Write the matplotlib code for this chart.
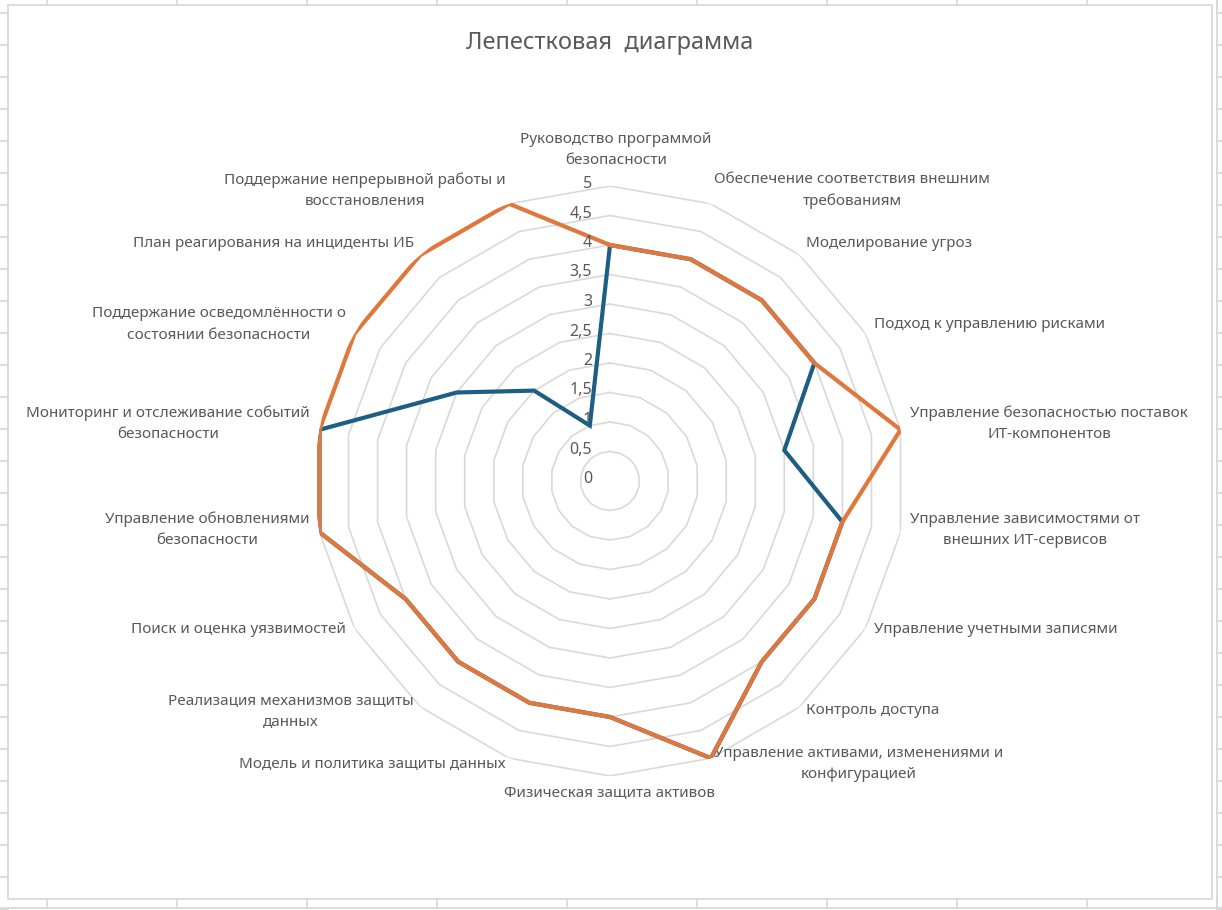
import numpy as np
import matplotlib.pyplot as plt

plt.rcParams['font.family'] = ['Noto Sans', 'DejaVu Sans']

categories = [
    "Руководство программой\nбезопасности",
    "Обеспечение соответствия внешним\nтребованиям",
    "Моделирование угроз",
    "Подход к управлению рисками",
    "Управление безопасностью поставок\nИТ-компонентов",
    "Управление зависимостями от\nвнешних ИТ-сервисов",
    "Управление учетными записями",
    "Контроль доступа",
    "Управление активами, изменениями и\nконфигурацией",
    "Физическая защита активов",
    "Модель и политика защиты данных",
    "Реализация механизмов защиты\nданных",
    "Поиск и оценка уязвимостей",
    "Управление обновлениями\nбезопасности",
    "Мониторинг и отслеживание событий\nбезопасности",
    "Поддержание осведомлённости о\nсостоянии безопасности",
    "План реагирования на инциденты ИБ",
    "Поддержание непрерывной работы и\nвосстановления",
]
series_blue = [4, 4, 4, 4, 3, 4, 4, 4, 5, 4, 4, 4, 4, 5, 5, 3, 2, 1]
series_orange = [4, 4, 4, 4, 5, 4, 4, 4, 5, 4, 4, 4, 4, 5, 5, 5, 5, 5]
r_ticks = [0, 0.5, 1, 1.5, 2, 2.5, 3, 3.5, 4, 4.5, 5]
title = "Лепестковая  диаграмма"

text_color = '#595959'
grid_color = '#D9D9D9'
W, H = 1222, 910

fig = plt.figure(figsize=(W / 100, H / 100), dpi=100)

# фон: рамка диаграммы и сетка листа по краям
bg = fig.add_axes([0, 0, 1, 1], zorder=-1)
bg.set_xlim(0, W)
bg.set_ylim(H, 0)
bg.axis('off')
lw_sheet = 1.3
bg.plot([8, 1212, 1212, 8, 8], [5, 5, 899, 899, 5], color=grid_color, lw=lw_sheet)
bg.plot([1217, 1217], [0, H], color=grid_color, lw=lw_sheet)
bg.plot([0, W], [908, 908], color=grid_color, lw=lw_sheet)
for y in np.arange(13.3, H, 32):
    bg.plot([0, 8], [y, y], color=grid_color, lw=lw_sheet)
    bg.plot([1217, W], [y, y], color=grid_color, lw=lw_sheet)
for x in np.arange(47, W, 130):
    bg.plot([x, x], [0, 5], color=grid_color, lw=lw_sheet)
    bg.plot([x, x], [899, 908], color=grid_color, lw=lw_sheet)
bg.text(610, 43, title, ha='center', va='center', fontsize=17, color=text_color)

# лепестковая диаграмма
cx, cy, rad = 610, 481, 295
ax = fig.add_axes([(cx - rad) / W, (H - cy - rad) / H, 2 * rad / W, 2 * rad / H],
                  projection='polar')
ax.set_theta_zero_location('N')
ax.set_theta_direction(-1)
ax.set_ylim(0, 5)
ax.grid(False)
ax.set_xticks([])
ax.set_yticks([])
ax.spines['polar'].set_visible(False)
ax.patch.set_alpha(0)

n = len(categories)
angles = np.linspace(0, 2 * np.pi, n, endpoint=False)
closed = np.append(angles, angles[0])

for r in r_ticks[1:]:
    ax.plot(closed, [r] * (n + 1), color=grid_color, lw=1.2, zorder=1)

ax.plot(closed, series_blue + series_blue[:1], color='#1D5F82', lw=3, zorder=3,
        solid_joinstyle='miter')
ax.plot(closed, series_orange + series_orange[:1], color='#E0773C', lw=3, zorder=4,
        solid_joinstyle='miter')

for r in r_ticks:
    ax.annotate(f"{r:g}".replace('.', ','), xy=(0, r), xytext=(-18, 2),
                textcoords='offset pixels', ha='right', va='center',
                fontsize=11.5, color=text_color, annotation_clip=False, zorder=5)

for ang, lab in zip(angles, categories):
    s, c = np.sin(ang), np.cos(ang)
    if abs(s) < 1e-6:
        if c > 0:
            ha, va, off = 'center', 'bottom', (6, 18)
        else:
            ha, va, off = 'center', 'top', (0, -9)
    else:
        ha = 'left' if s > 0 else 'right'
        va = 'center'
        off = (10 * s, 4 + 10 * c)
    ax.annotate(lab, xy=(ang, 5), xytext=off, textcoords='offset pixels',
                ha=ha, va=va, multialignment='center', linespacing=1.55,
                fontsize=11, color=text_color, annotation_clip=False)

fig.savefig('out.png', dpi=100)
